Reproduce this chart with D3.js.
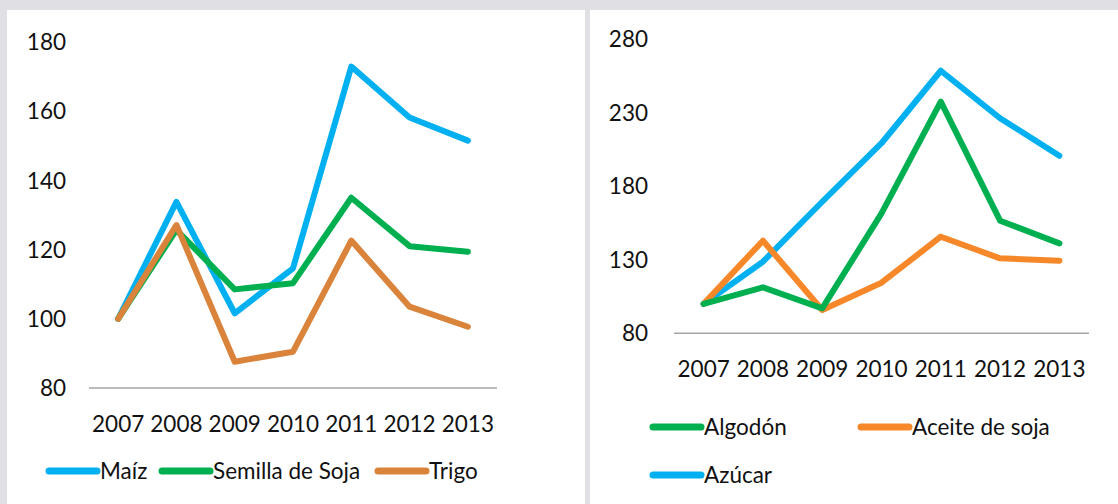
<!DOCTYPE html>
<html>
<head>
<meta charset="utf-8">
<script src="https://cdn.jsdelivr.net/npm/d3@7"></script>
<style>
  html, body { margin: 0; padding: 0; background: #e0e0e4; }
  svg { display: block; }
  text { font-family: Lato, "Open Sans", sans-serif; fill: #111; }
</style>
</head>
<body>
<svg id="chart" width="1118" height="504"></svg>
<script>
// años comunes
const years = ["2007", "2008", "2009", "2010", "2011", "2012", "2013"];

// panel izquierdo
const leftTicks = [80, 100, 120, 140, 160, 180];
const maiz = [100, 133.8, 101.6, 114.6, 172.9, 158.2, 151.5];
const semillaSoja = [100, 125.7, 108.5, 110.3, 135.0, 121.0, 119.4];
const trigo = [100, 127.1, 87.6, 90.5, 122.6, 103.5, 97.7];

// panel derecho
const rightTicks = [80, 130, 180, 230, 280];
const algodon = [100, 111.3, 97.0, 161.6, 237.6, 156.6, 141.2];
const aceiteSoja = [100, 143.0, 95.9, 114.4, 145.7, 131.0, 129.4];
const azucar = [100, 128.7, 169.5, 209.3, 258.6, 226.3, 200.8];

const FONT = "22.5px";
const svg = d3.select("#chart");

// fondos blancos de cada panel
svg.append("rect").attr("x", 7).attr("y", 10).attr("width", 578).attr("height", 494).attr("fill", "#fff");
svg.append("rect").attr("x", 590).attr("y", 10).attr("width", 528).attr("height", 494).attr("fill", "#fff");

/**
 * dibuja un gráfico de líneas
 */
function drawPanel(cfg) {
  const x = d3.scalePoint().domain(years).range(cfg.xRange).padding(0.5);
  const y = d3.scaleLinear().domain([cfg.ticks[0], cfg.ticks[cfg.ticks.length - 1]]).range(cfg.yRange);
  const g = svg.append("g");

  // eje x (solo la línea base)
  g.append("line")
    .attr("x1", cfg.xRange[0]).attr("x2", cfg.xRange[1])
    .attr("y1", y(cfg.ticks[0])).attr("y2", y(cfg.ticks[0]))
    .attr("stroke", "#a6a6a6").attr("stroke-width", 1.5);

  // etiquetas del eje y
  g.selectAll(".ytick").data(cfg.ticks).enter().append("text")
    .attr("x", cfg.yLabelX).attr("y", (d) => y(d))
    .attr("dy", "0.36em").attr("text-anchor", "end")
    .style("font-size", FONT)
    .text((d) => d);

  // etiquetas del eje x
  g.selectAll(".xtick").data(years).enter().append("text")
    .attr("x", (d) => x(d)).attr("y", cfg.xLabelY)
    .attr("dy", "0.36em").attr("text-anchor", "middle")
    .style("font-size", FONT)
    .text((d) => d);

  const line = d3.line().x((d, i) => x(years[i])).y((d) => y(d));

  cfg.series.forEach((s) => {
    g.append("path").datum(s.values)
      .attr("d", line)
      .attr("fill", "none").attr("stroke", s.color)
      .attr("stroke-width", 6).attr("stroke-linejoin", "round").attr("stroke-linecap", "round");
  });

  // leyenda
  cfg.series.forEach((s) => {
    const lg = g.append("g").attr("transform", `translate(${s.legend[0]},${s.legend[1]})`);
    lg.append("line").attr("x1", 0).attr("x2", 48).attr("y1", 0).attr("y2", 0)
      .attr("stroke", s.color).attr("stroke-width", 7).attr("stroke-linecap", "round");
    lg.append("text").attr("x", 51).attr("y", 0).attr("dy", "0.36em")
      .style("font-size", FONT).text(s.name);
  });
}

drawPanel({
  xRange: [89, 497],
  yRange: [388, 42],
  ticks: leftTicks,
  yLabelX: 66,
  xLabelY: 424,
  series: [
    { name: "Maíz", values: maiz, color: "#00b0f0", legend: [49, 471] },
    { name: "Semilla de Soja", values: semillaSoja, color: "#00b050", legend: [162, 471] },
    { name: "Trigo", values: trigo, color: "#d9833b", legend: [378, 471] },
  ],
});

drawPanel({
  xRange: [674, 1089],
  yRange: [333.3, 39.3],
  ticks: rightTicks,
  yLabelX: 648,
  xLabelY: 369,
  series: [
    { name: "Azúcar", values: azucar, color: "#00b0f0", legend: [653, 475] },
    { name: "Aceite de soja", values: aceiteSoja, color: "#f7882a", legend: [861, 427] },
    { name: "Algodón", values: algodon, color: "#00b050", legend: [653, 427] },
  ],
});
</script>
</body>
</html>
